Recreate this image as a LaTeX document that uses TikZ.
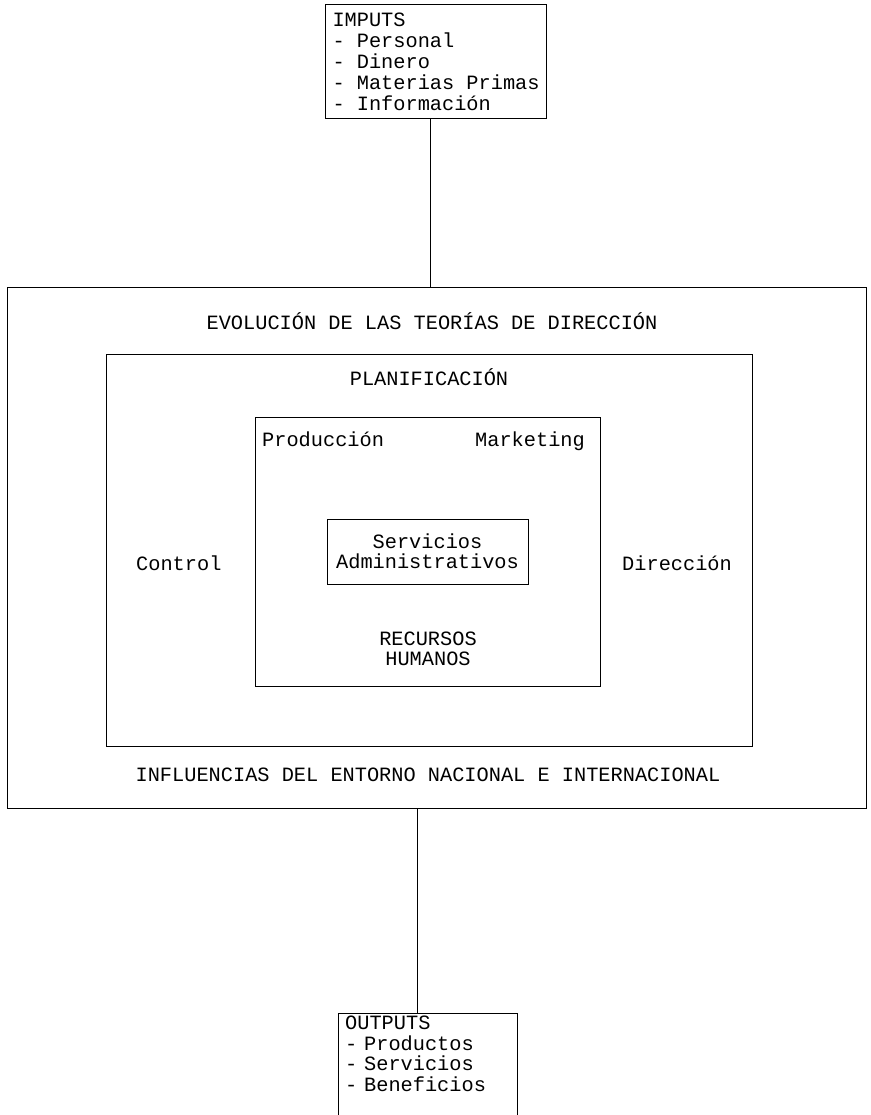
\documentclass[tikz,border=0pt]{standalone}
\usepackage{fontspec}
\newfontfamily\typew{Liberation Mono}
\usetikzlibrary{positioning}
\tikzset{
  frame/.style={draw, line width=1pt, inner sep=0pt},
  txt/.style={font=\typew\fontsize{20.3}{19.5}\selectfont, inner sep=0pt},
  listbox/.style={txt, align=left, inner xsep=7pt}
}

\begin{document}
\begin{tikzpicture}[x=1pt, y=-1pt]
			%%%%% FRAME %%%%%
			\useasboundingbox (0,0) rectangle (870,1115);
			\coordinate (floor) at (0,1130);
			\coordinate (outlink) at (417,0);
			
			%%%%% BOXES %%%%%
			\node[frame, minimum width=859, minimum height=521] (outer) at (436.5,547.5) {};
			\node[frame, minimum width=646, minimum height=392] (planif) at (429,550) {};
			\node[frame, minimum width=345, minimum height=269] (areas) at (427.5,551.5) {};
			\node[frame, txt, align=center, minimum width=201, minimum height=65] (admin) at (427.5,551.5) {Servicios\\Administrativos};
			
			%%%%% LABELS %%%%%
			\node[txt, anchor=base] (evol) at (432,329) {EVOLUCIÓN DE LAS TEORÍAS DE DIRECCIÓN};
			\node[txt, anchor=base] (influ) at (428,781) {INFLUENCIAS DEL ENTORNO NACIONAL E INTERNACIONAL};
			\node[txt, anchor=base] (planlab) at (429,385) {PLANIFICACIÓN};
			\node[txt, anchor=base west] (prod) at (262,446) {Producción};
			\node[txt, anchor=base east] (mark) at (585,446) {Marketing};
			\node[txt, anchor=base west] (ctrl) at (136,570) {Control};
			\node[txt, anchor=base west] (direc) at (622,570) {Dirección};
			\node[txt, align=center, anchor=north] (rrhh) at (428,632) {RECURSOS\\HUMANOS};
			
			%%%%% IN / OUT %%%%%
			\node[frame, listbox, font=\typew\fontsize{20.3}{21}\selectfont, inner ysep=8pt, anchor=north west] (imputs) at (325,4)
			  {IMPUTS\\- Personal\\- Dinero\\- Materias Primas\\- Información};
			\draw[line width=1pt] (imputs.south -| 430,0) -- (outer.north -| 430,0);
			
			\node[listbox, font=\typew\fontsize{20.3}{20.5}\selectfont, inner ysep=3pt, text width=165, anchor=north west] (outputs) at (338,1013)
			  {OUTPUTS\\- Productos\\- Servicios\\- Beneficios};
			\draw[line width=1pt] (outputs.west |- floor) -- (outputs.north west) -- (outputs.north east) -- (outputs.east |- floor);
			\draw[line width=1pt] (outer.south -| outlink) -- (outputs.north -| outlink);
			%%%%% END %%%%%
\end{tikzpicture}
\end{document}
